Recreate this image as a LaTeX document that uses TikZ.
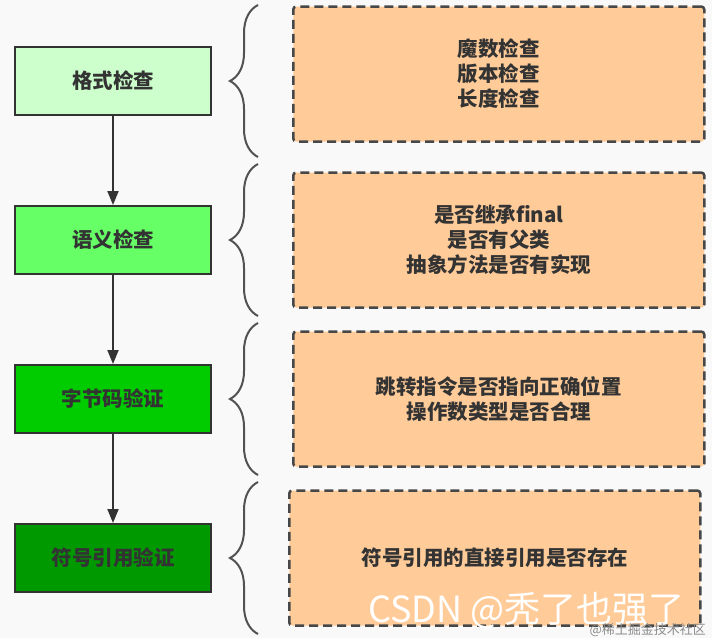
\documentclass[tikz,border=0pt]{standalone}
\usepackage{fontspec}
\newfontfamily\cjk{Noto Sans CJK SC}
\usepackage{xcolor}
\usetikzlibrary{shapes,arrows.meta,positioning,calc,decorations.pathreplacing}

\definecolor{bggray}{HTML}{F9F9F9}
\definecolor{ink}{HTML}{333333}
\definecolor{green1}{HTML}{CCFFCC}
\definecolor{green2}{HTML}{66FF66}
\definecolor{green3}{HTML}{00CC00}
\definecolor{green4}{HTML}{009900}
\definecolor{peach}{HTML}{FFCC99}

\begin{document}
\begin{tikzpicture}[
    node distance=89pt and 80pt,
    stage/.style={rectangle, draw=ink, line width=2pt, align=center, minimum height=68pt, minimum width=196pt, text=ink, font=\cjk\bfseries\fontsize{20.5}{25}\selectfont},
    detail/.style={rectangle, draw=ink!90, fill=peach, line width=2.5pt, dash pattern=on 9pt off 5pt, rounded corners=3pt, align=center, minimum height=135pt, minimum width=411pt, text=ink, font=\cjk\bfseries\fontsize{20.5}{25}\selectfont},
    arrow/.style={-{Triangle[width=11pt,length=14pt]}, line width=2pt, draw=ink},
    curly/.style={decorate, decoration={brace, amplitude=28pt}, line width=2pt, draw=ink!85}
]
    % canvas
    \fill [bggray] (0,0) rectangle (712pt,-638pt);
    \useasboundingbox (0,0) rectangle (712pt,-638pt);

    % checking stages
    \node [stage, fill=green1] (n1) at (113pt,-81pt) {格式检查};
    \node [stage, fill=green2, below=of n1] (n2) {语义检查};
    \node [stage, fill=green3, below=of n2] (n3) {字节码验证};
    \node [stage, fill=green4, below=of n3] (n4) {符号引用验证};

    % what each stage checks
    \node [detail, right=of n1, yshift=7pt] (d1) {魔数检查\\版本检查\\长度检查};
    \node [detail, right=of n2] (d2) {是否继承final\\是否有父类\\抽象方法是否有实现};
    \node [detail, right=of n3] (d3) {跳转指令是否指向正确位置\\操作数类型是否合理};
    \node [detail, right=of n4, xshift=-4pt] (d4) {符号引用的直接引用是否存在};

    \draw [arrow] (n1) -- (n2);
    \draw [arrow] (n2) -- (n3);
    \draw [arrow] (n3) -- (n4);

    \foreach \i in {1,...,4}
        \draw [curly] ([xshift=46pt,yshift=-76pt]n\i.east) -- ([xshift=46pt,yshift=76pt]n\i.east);

    % watermark
    \node [anchor=base east, text=white, font=\cjk\fontsize{36}{36}\selectfont, inner sep=0pt] (wm) at (685pt,-622pt) {CSDN @秃了也强了};
    \node [anchor=base east, text=black!45, font=\cjk\fontsize{13}{13}\selectfont, inner sep=0pt] (wm2) at (706pt,-634pt) {@稀土掘金技术社区};
\end{tikzpicture}
\end{document}
